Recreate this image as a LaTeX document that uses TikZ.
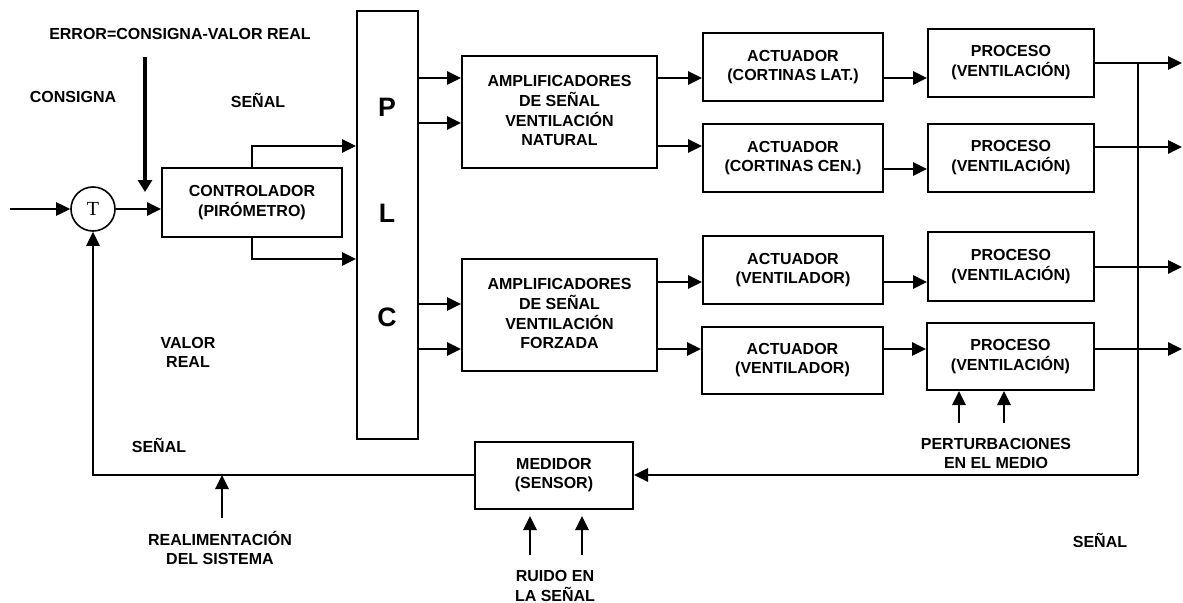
\documentclass[tikz,border=0pt]{standalone}
\usepackage{fontspec}
\setmainfont{Liberation Sans}
\newfontfamily\serifT{Liberation Serif}
\usetikzlibrary{arrows.meta}
\newcommand\tx[2]{\raisebox{#1}{\begin{tabular}{@{}c@{}}#2\end{tabular}}}
\tikzset{
  box/.style={draw, line width=1.5pt, rectangle, inner sep=0pt},
  lbl/.style={inner sep=0pt, font=\bfseries\fontsize{12}{14.25}\selectfont},
  con/.style={line width=1.2pt, -{Triangle[length=10.5pt,width=10pt]}},
  ln/.style={line width=1.2pt},
  thick arrow/.style={line width=2.4pt, -{Triangle[length=9pt,width=10.5pt]}},
}
\begin{document}
\begin{tikzpicture}[x=0.75pt, y=-0.75pt, font=\bfseries\fontsize{12}{14.25}\selectfont]
\useasboundingbox (0,0) rectangle (1183,603);
% boxes
\node[box, minimum width=180*0.75pt, minimum height=69*0.75pt] (ctrl) at (252,202.5) {\tx{0pt}{CONTROLADOR\\(PIRÓMETRO)}};
\node[box, minimum width=61*0.75pt, minimum height=428*0.75pt] (plc) at (387.5,225) {};
\node[lbl, font=\bfseries\fontsize{20}{24}\selectfont] (P) at (387,107) {P};
\node[lbl, font=\bfseries\fontsize{20}{24}\selectfont] (L) at (387,213) {L};
\node[lbl, font=\bfseries\fontsize{20}{24}\selectfont] (C) at (387,317) {C};
\node[box, minimum width=195*0.75pt, minimum height=112*0.75pt] (amp1) at (559.5,112) {\tx{4pt}{AMPLIFICADORES\\DE SEÑAL\\VENTILACIÓN\\NATURAL}};
\node[box, minimum width=195*0.75pt, minimum height=112*0.75pt] (amp2) at (559.5,315) {\tx{5pt}{AMPLIFICADORES\\DE SEÑAL\\VENTILACIÓN\\FORZADA}};
\node[box, minimum width=180*0.75pt, minimum height=68*0.75pt] (act1) at (793,67) {\tx{1.5pt}{ACTUADOR\\(CORTINAS LAT.)}};
\node[box, minimum width=180*0.75pt, minimum height=68*0.75pt] (act2) at (793,158) {\tx{2.2pt}{ACTUADOR\\(CORTINAS CEN.)}};
\node[box, minimum width=180*0.75pt, minimum height=68*0.75pt] (act3) at (793,270) {\tx{2pt}{ACTUADOR\\(VENTILADOR)}};
\node[box, minimum width=181*0.75pt, minimum height=67*0.75pt] (act4) at (792.5,360.5) {\tx{1.1pt}{ACTUADOR\\(VENTILADOR)}};
\node[box, minimum width=166*0.75pt, minimum height=68*0.75pt] (proc1) at (1011,63) {\tx{2pt}{PROCESO\\(VENTILACIÓN)}};
\node[box, minimum width=166*0.75pt, minimum height=68*0.75pt] (proc2) at (1011,158) {\tx{2.2pt}{PROCESO\\(VENTILACIÓN)}};
\node[box, minimum width=166*0.75pt, minimum height=69*0.75pt] (proc3) at (1011,266.5) {\tx{2.2pt}{PROCESO\\(VENTILACIÓN)}};
\node[box, minimum width=167*0.75pt, minimum height=67*0.75pt] (proc4) at (1010.5,356.5) {\tx{2pt}{PROCESO\\(VENTILACIÓN)}};
\node[box, minimum width=158*0.75pt, minimum height=67*0.75pt] (med) at (554,475.5) {\tx{1.1pt}{MEDIDOR\\(SENSOR)}};
\node[draw, circle, line width=1.2pt, minimum size=44*0.75pt, inner sep=0pt, font=\serifT\fontsize{15}{17}\selectfont] (T) at (93,209) {T};
% free labels
\node[lbl] (err) at (180,34) {ERROR=CONSIGNA-VALOR REAL};
\node[lbl] (cons) at (73,97) {CONSIGNA};
\node[lbl] (sen1) at (258,100) {SEÑAL};
\node[lbl] (valor) at (188,354.5) {\tx{0pt}{VALOR\\REAL}};
\node[lbl] (sen2) at (159,445) {SEÑAL};
\node[lbl] (realim) at (220,551) {\tx{0pt}{REALIMENTACIÓN\\DEL SISTEMA}};
\node[lbl] (ruido) at (555,587.5) {\tx{0pt}{RUIDO EN\\LA SEÑAL}};
\node[lbl] (pert) at (996,455) {\tx{0pt}{PERTURBACIONES\\EN EL MEDIO}};
\node[lbl] (sen3) at (1100,540) {SEÑAL};
% coordinates
\coordinate (in) at (10,209);
\coordinate (errtop) at (145,57);
\coordinate (errtip) at (145,192);
\foreach \n/\y in {a/78,b/123,c/146,d/259,e/304,f/349,g/169,h/282,i/63,j/147,k/267,l/475}{\coordinate (y\n) at (0,\y);}
\coordinate (xout) at (1182,0);
\coordinate (bus) at (1138,63);
\coordinate (busb) at (1138,475);
\coordinate (fbc) at (93,475);
\coordinate (rb) at (222,518);
\coordinate (r1) at (530,555);
\coordinate (r2) at (582,555);
\coordinate (p1) at (959,423);
\coordinate (p2) at (1004,423);
% connectors
\draw[con] (in) -- (T.west);
\draw[con] (T.east) -- (ctrl.west |- T.east);
\draw[thick arrow] (errtop) -- (errtip);
\draw[con] (ctrl.north) |- (plc.west |- yc);
\draw[con] (ctrl.south) |- (plc.west |- yd);
\draw[con] (plc.east |- ya) -- (amp1.west |- ya);
\draw[con] (plc.east |- yb) -- (amp1.west |- yb);
\draw[con] (plc.east |- ye) -- (amp2.west |- ye);
\draw[con] (plc.east |- yf) -- (amp2.west |- yf);
\draw[con] (amp1.east |- ya) -- (act1.west |- ya);
\draw[con] (amp1.east |- yc) -- (act2.west |- yc);
\draw[con] (amp2.east |- yh) -- (act3.west |- yh);
\draw[con] (amp2.east |- yf) -- (act4.west |- yf);
\draw[con] (act1.east |- ya) -- (proc1.west |- ya);
\draw[con] (act2.east |- yg) -- (proc2.west |- yg);
\draw[con] (act3.east |- yh) -- (proc3.west |- yh);
\draw[con] (act4.east |- yf) -- (proc4.west |- yf);
\draw[con] (proc1.east |- yi) -- (xout |- yi);
\draw[con] (proc2.east |- yj) -- (xout |- yj);
\draw[con] (proc3.east |- yk) -- (xout |- yk);
\draw[con] (proc4.east |- yf) -- (xout |- yf);
\draw[ln] (bus) -- (busb);
\draw[con] (busb) -- (med.east |- busb);
\draw[con] (med.west |- yl) -- (fbc) -- (T.south);
\draw[con] (rb) -- (rb |- yl);
\draw[con] (r1) -- ++(0,-39);
\draw[con] (r2) -- ++(0,-39);
\draw[con] (p1) -- (p1 |- proc4.south);
\draw[con] (p2) -- (p2 |- proc4.south);
\end{tikzpicture}
\end{document}
